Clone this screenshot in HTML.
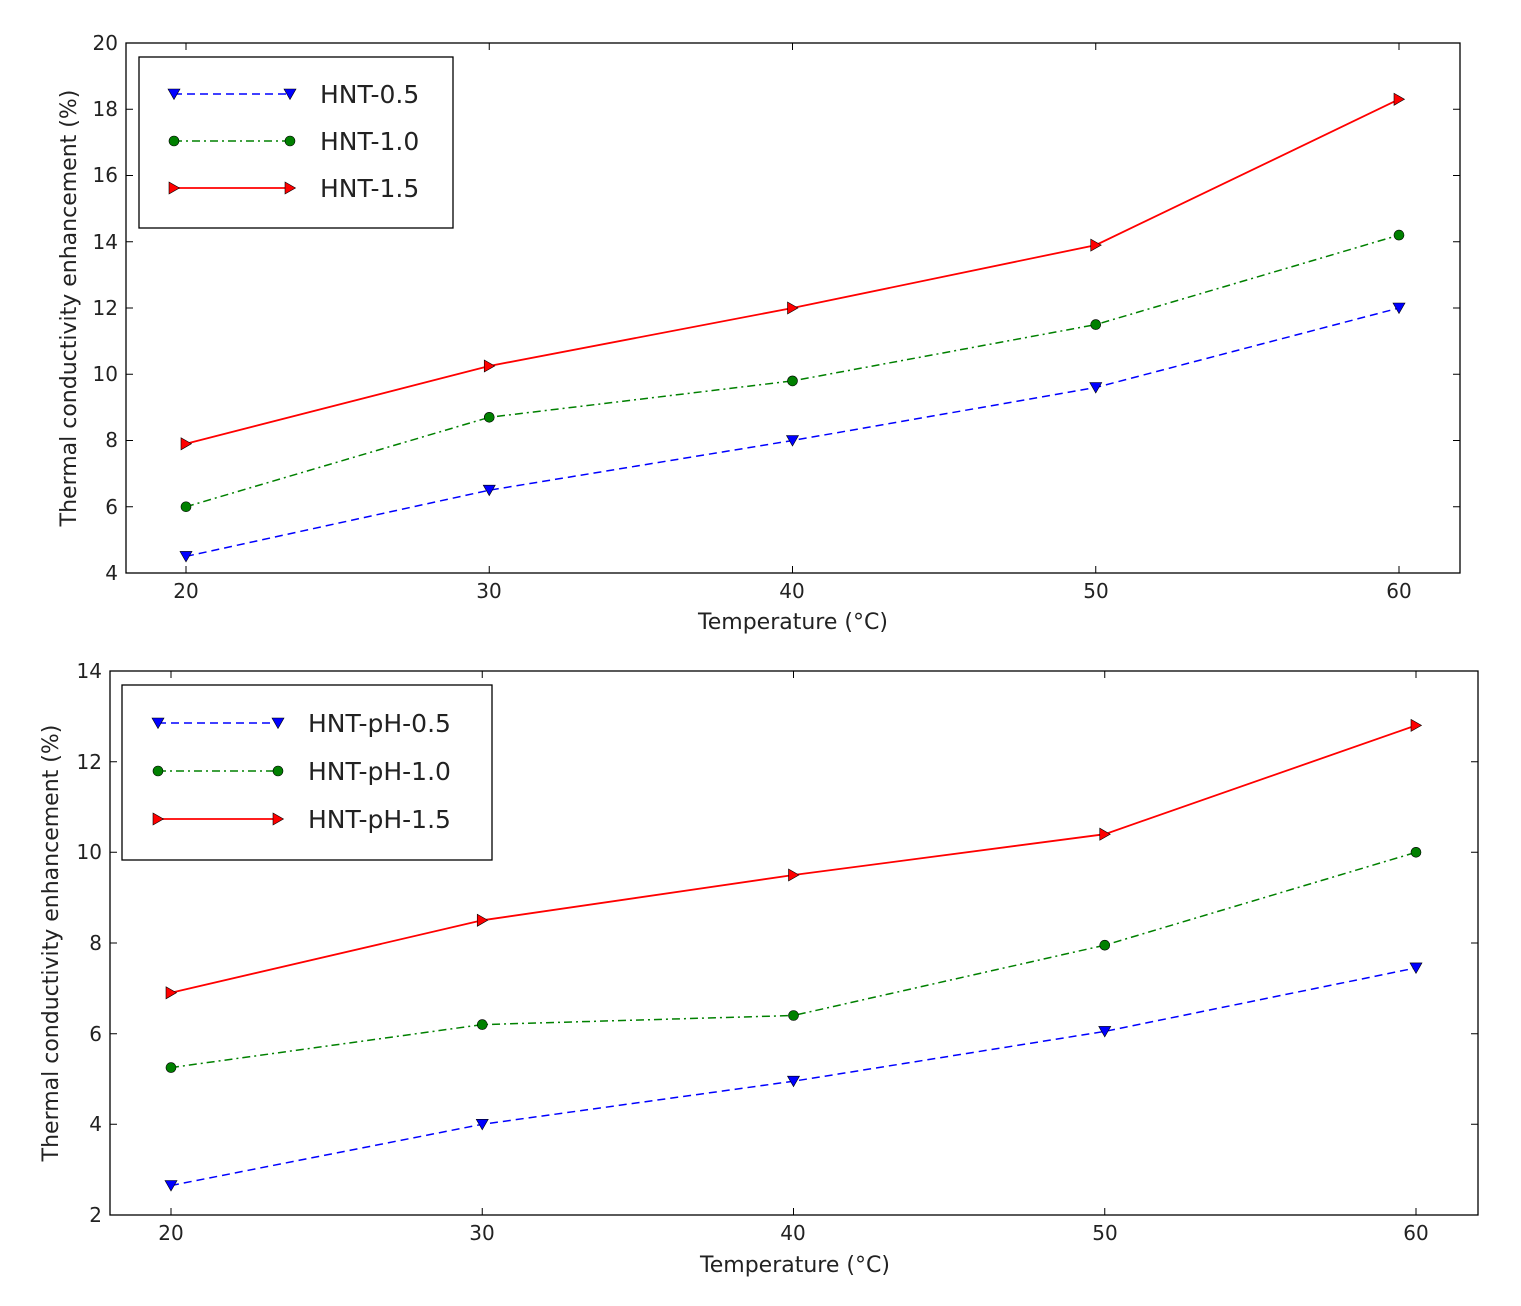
<!DOCTYPE html>
<html><head><meta charset="utf-8"><style>
body{margin:0;background:#fff}
text{font-family:"DejaVu Sans","Liberation Sans",sans-serif;fill:#222}
</style></head><body>
<svg width="1521" height="1301" viewBox="0 0 1521 1301" xmlns="http://www.w3.org/2000/svg">
<defs>
<path id="td" d="M-6,-5 L6,-5 L0,5.5 Z" fill="#0000ff" stroke="#000" stroke-width="0.6"/>
<circle id="ci" r="5" fill="#008000" stroke="#000" stroke-width="0.6"/>
<path id="tr" d="M-5,-6 L-5,6 L5.5,0 Z" fill="#ff0000" stroke="#000" stroke-width="0.6"/>
</defs>
<rect x="126" y="43" width="1334" height="530" fill="none" stroke="#000" stroke-width="1.3"/>
<g stroke="#000" stroke-width="1">
<path d="M186,573v-7M489.25,573v-7M792.5,573v-7M1095.75,573v-7M1399,573v-7M186,43v7M489.25,43v7M792.5,43v7M1095.75,43v7M1399,43v7"/>
<path d="M126,109.25h7M126,175.5h7M126,241.75h7M126,308h7M126,374.25h7M126,440.5h7M126,506.75h7M1460,109.25h-7M1460,175.5h-7M1460,241.75h-7M1460,308h-7M1460,374.25h-7M1460,440.5h-7M1460,506.75h-7"/>
</g>
<g font-size="20" text-anchor="end">
<text x="118" y="50">20</text><text x="118" y="116">18</text><text x="118" y="182">16</text><text x="118" y="249">14</text><text x="118" y="315">12</text><text x="118" y="381">10</text><text x="118" y="447">8</text><text x="118" y="514">6</text><text x="118" y="580">4</text>
</g>
<g font-size="20" text-anchor="middle">
<text x="186" y="598">20</text><text x="489" y="598">30</text><text x="792" y="598">40</text><text x="1096" y="598">50</text><text x="1399" y="598">60</text>
</g>
<g font-size="22" text-anchor="middle">
<text x="793" y="629">Temperature (°C)</text>
<text transform="translate(76,308) rotate(-90)">Thermal conductivity enhancement (%)</text>
</g>
<polyline points="186,556.4 489.25,490.2 792.5,440.5 1095.75,387.5 1399,308" fill="none" stroke="#0000ff" stroke-width="1.5" stroke-dasharray="8,5"/>
<polyline points="186,506.75 489.25,417.3 792.5,380.9 1095.75,324.6 1399,235.1" fill="none" stroke="#008000" stroke-width="1.5" stroke-dasharray="8,4,2,4"/>
<polyline points="186,443.8 489.25,366 792.5,308 1095.75,245.1 1399,99.3" fill="none" stroke="#ff0000" stroke-width="1.8"/>
<use href="#td" x="186" y="556.4"/><use href="#td" x="489.25" y="490.2"/><use href="#td" x="792.5" y="440.5"/><use href="#td" x="1095.75" y="387.5"/><use href="#td" x="1399" y="308"/>
<use href="#ci" x="186" y="506.75"/><use href="#ci" x="489.25" y="417.3"/><use href="#ci" x="792.5" y="380.9"/><use href="#ci" x="1095.75" y="324.6"/><use href="#ci" x="1399" y="235.1"/>
<use href="#tr" x="186" y="443.8"/><use href="#tr" x="489.25" y="366"/><use href="#tr" x="792.5" y="308"/><use href="#tr" x="1095.75" y="245.1"/><use href="#tr" x="1399" y="99.3"/>
<rect x="139" y="57" width="314" height="171" fill="#fff" stroke="#000" stroke-width="1.3"/>
<line x1="174" y1="94" x2="290" y2="94" stroke="#0000ff" stroke-width="1.5" stroke-dasharray="8,5"/>
<use href="#td" x="174" y="94"/><use href="#td" x="290" y="94"/>
<line x1="174" y1="141" x2="290" y2="141" stroke="#008000" stroke-width="1.5" stroke-dasharray="8,4,2,4"/>
<use href="#ci" x="174" y="141"/><use href="#ci" x="290" y="141"/>
<line x1="174" y1="188" x2="290" y2="188" stroke="#ff0000" stroke-width="1.8"/>
<use href="#tr" x="174" y="188"/><use href="#tr" x="290" y="188"/>
<g font-size="25"><text x="320" y="103">HNT-0.5</text><text x="320" y="150">HNT-1.0</text><text x="320" y="197">HNT-1.5</text></g>

<rect x="110" y="671" width="1368" height="544" fill="none" stroke="#000" stroke-width="1.3"/>
<g stroke="#000" stroke-width="1">
<path d="M171,1215v-7M482.25,1215v-7M793.5,1215v-7M1104.75,1215v-7M1416,1215v-7M171,671v7M482.25,671v7M793.5,671v7M1104.75,671v7M1416,671v7"/>
<path d="M110,761.7h7M110,852.3h7M110,943h7M110,1033.7h7M110,1124.3h7M1478,761.7h-7M1478,852.3h-7M1478,943h-7M1478,1033.7h-7M1478,1124.3h-7"/>
</g>
<g font-size="20" text-anchor="end">
<text x="102" y="678">14</text><text x="102" y="769">12</text><text x="102" y="859">10</text><text x="102" y="950">8</text><text x="102" y="1041">6</text><text x="102" y="1131">4</text><text x="102" y="1222">2</text>
</g>
<g font-size="20" text-anchor="middle">
<text x="171" y="1240">20</text><text x="482" y="1240">30</text><text x="793" y="1240">40</text><text x="1105" y="1240">50</text><text x="1416" y="1240">60</text>
</g>
<g font-size="22" text-anchor="middle">
<text x="795" y="1272">Temperature (°C)</text>
<text transform="translate(58,943) rotate(-90)">Thermal conductivity enhancement (%)</text>
</g>
<polyline points="171,1185.5 482.25,1124.3 793.5,1081.2 1104.75,1031.4 1416,967.9" fill="none" stroke="#0000ff" stroke-width="1.5" stroke-dasharray="8,5"/>
<polyline points="171,1067.6 482.25,1024.6 793.5,1015.5 1104.75,945.2 1416,852.3" fill="none" stroke="#008000" stroke-width="1.5" stroke-dasharray="8,4,2,4"/>
<polyline points="171,992.8 482.25,920.3 793.5,875 1104.75,834.2 1416,725.4" fill="none" stroke="#ff0000" stroke-width="1.8"/>
<use href="#td" x="171" y="1185.5"/><use href="#td" x="482.25" y="1124.3"/><use href="#td" x="793.5" y="1081.2"/><use href="#td" x="1104.75" y="1031.4"/><use href="#td" x="1416" y="967.9"/>
<use href="#ci" x="171" y="1067.6"/><use href="#ci" x="482.25" y="1024.6"/><use href="#ci" x="793.5" y="1015.5"/><use href="#ci" x="1104.75" y="945.2"/><use href="#ci" x="1416" y="852.3"/>
<use href="#tr" x="171" y="992.8"/><use href="#tr" x="482.25" y="920.3"/><use href="#tr" x="793.5" y="875"/><use href="#tr" x="1104.75" y="834.2"/><use href="#tr" x="1416" y="725.4"/>
<rect x="122" y="685" width="370" height="175" fill="#fff" stroke="#000" stroke-width="1.3"/>
<line x1="158" y1="723" x2="278" y2="723" stroke="#0000ff" stroke-width="1.5" stroke-dasharray="8,5"/>
<use href="#td" x="158" y="723"/><use href="#td" x="278" y="723"/>
<line x1="158" y1="771" x2="278" y2="771" stroke="#008000" stroke-width="1.5" stroke-dasharray="8,4,2,4"/>
<use href="#ci" x="158" y="771"/><use href="#ci" x="278" y="771"/>
<line x1="158" y1="819" x2="278" y2="819" stroke="#ff0000" stroke-width="1.8"/>
<use href="#tr" x="158" y="819"/><use href="#tr" x="278" y="819"/>
<g font-size="25"><text x="308" y="732">HNT-pH-0.5</text><text x="308" y="780">HNT-pH-1.0</text><text x="308" y="828">HNT-pH-1.5</text></g>
</svg>
</body></html>
